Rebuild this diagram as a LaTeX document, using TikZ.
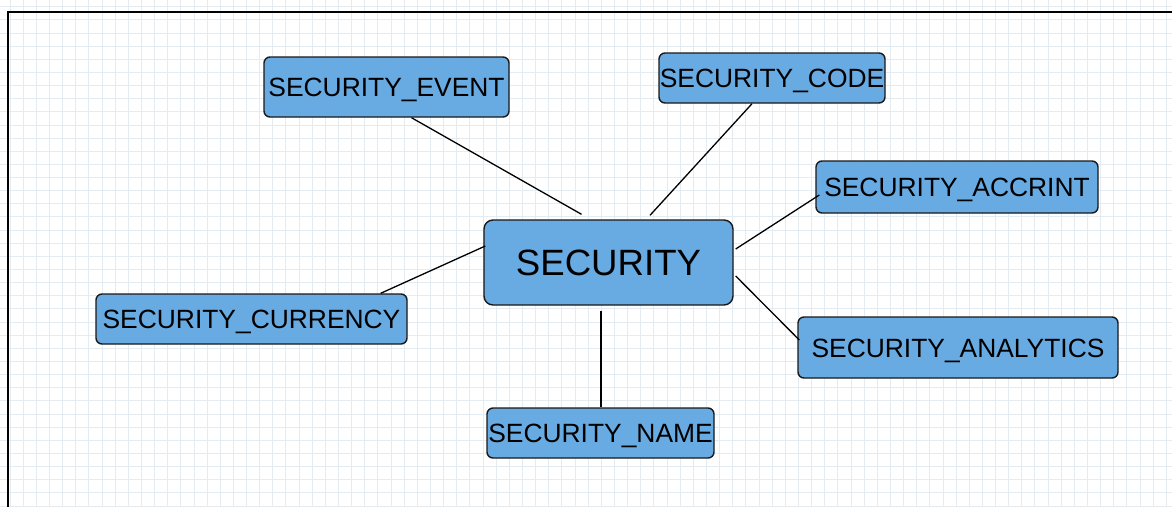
\documentclass[tikz,border=0pt]{standalone}
\usepackage{fontspec}
\setmainfont{Liberation Sans}
\definecolor{boxblue}{RGB}{104,170,226}
\definecolor{gridgray}{RGB}{228,236,241}
\tikzset{
  tbl/.style={draw=black!90, line width=1.4pt, fill=boxblue, rounded corners=6pt,
    inner sep=0pt, minimum height=50pt, text height=19pt, text depth=0pt,
    font=\fontsize{26.4}{30}\selectfont},
  link/.style={line width=1.3pt},
  gridline/.style={gridgray, line width=0.9pt}
}
\begin{document}
\begin{tikzpicture}[x=1pt, y=-1pt]
    \useasboundingbox (0,0) rectangle (1172,507);
    \fill[white] (0,0) rectangle (1172,507);
    \foreach \i in {0,...,88} \draw[gridline] ({10+13.14*\i},0) -- ++(0,507);
    \foreach \j in {0,...,38} \draw[gridline] (0,{6.7+13.14*\j}) -- ++(1172,0);
    \draw[line width=2pt] (8,507) -- (8,12) -- (1172,12);

    \node[tbl, minimum width=249pt, minimum height=85pt, rounded corners=9pt,
      text height=26pt, font=\fontsize{36.6}{40}\selectfont] (sec) at (608.5,262.5) {SECURITY};
    \node[tbl, minimum width=245pt, minimum height=60pt] (event) at (386.5,87) {SECURITY\_EVENT};
    \node[tbl, minimum width=226pt] (code) at (772,78) {SECURITY\_CODE};
    \node[tbl, minimum width=282pt, minimum height=52pt] (accrint) at (957,187) {SECURITY\_ACCRINT};
    \node[tbl, minimum width=311pt] (currency) at (251.5,319) {SECURITY\_CURRENCY};
    \node[tbl, minimum width=320pt, minimum height=61pt] (analytics) at (958,347.5) {SECURITY\_ANALYTICS};
    \node[tbl, minimum width=227pt] (name) at (600.5,433) {SECURITY\_NAME};

    \draw[link] ([xshift=25pt]event.south) -- ([xshift=-27pt,yshift=5pt]sec.north);
    \draw[link] ([xshift=-20pt]code.south) -- ([xshift=41.5pt,yshift=4pt]sec.north);
    \draw[link] ([xshift=4pt,yshift=-8pt]accrint.west) -- ([xshift=2pt,yshift=13.5pt]sec.east);
    \draw[link] ([xshift=2pt,yshift=7.5pt]analytics.west) -- ([xshift=2pt,yshift=-13.5pt]sec.east);
    \draw[link] ([xshift=-7.5pt,yshift=-5pt]sec.south) -- ([xshift=0.5pt]name.north);
    \draw[link] ([xshift=-27pt]currency.north east) -- ([xshift=2pt,yshift=16.5pt]sec.west);
  %!%  \node at (600,490) {};
\end{tikzpicture}
\end{document}
